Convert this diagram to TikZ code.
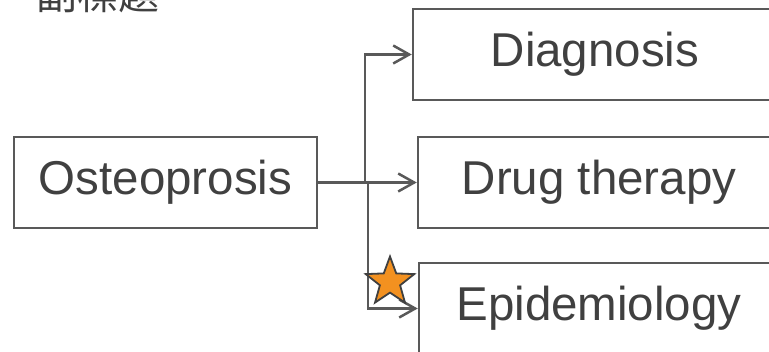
\documentclass[tikz,border=0pt]{standalone}
\usepackage{fontspec}
\setmainfont{Liberation Sans}
\newfontfamily\cjk{Noto Sans CJK TC}
\usetikzlibrary{arrows.meta,shapes.geometric}

\definecolor{linegray}{HTML}{595959}
\definecolor{textgray}{HTML}{404040}
\definecolor{starorange}{HTML}{F39120}

\tikzset{
  topic/.style={draw=linegray, line width=2.5pt, text=textgray,
                minimum height=91pt, inner sep=0pt,
                font=\fontsize{47.5}{57}\selectfont},
  link/.style={draw=linegray, line width=2.5pt,
               -{Straight Barb[length=16pt, width=18pt, line width=2.5pt]}},
}

\begin{document}
\begin{tikzpicture}[x=1pt, y=-1pt]
\useasboundingbox (0,0) rectangle (769,352);
% subtitle, cut by the top edge
\node[anchor=base west, inner sep=0pt, text=textgray,
      font=\cjk\fontsize{41}{49}\selectfont] (title) at (36,10) {副標題};
% boxes
\node[topic, minimum width=303pt] (osteo) at (165.5,182.5) {Osteoprosis};
\node[topic, minimum width=364pt] (diag) at (595,54.5) {Diagnosis};
\node[topic, minimum width=362pt] (drug) at (599,182.5) {Drug therapy};
\node[topic, minimum width=360pt] (epi) at (599,308.5) {Epidemiology};
% connectors
\coordinate (splitup) at (365,182.5);
\coordinate (splitdown) at (368,182.5);
\draw[link] (osteo.east) -- (drug.west);
\draw[link] (splitup) |- (diag.west);
\draw[link] (splitdown) |- (epi.west);
% marker
\node[star, star points=5, star point ratio=2.4, minimum size=51pt,
      inner sep=0pt, fill=starorange, draw=textgray, line width=1.8pt]
      (mark) at (390,282) {};
\end{tikzpicture}
\end{document}
